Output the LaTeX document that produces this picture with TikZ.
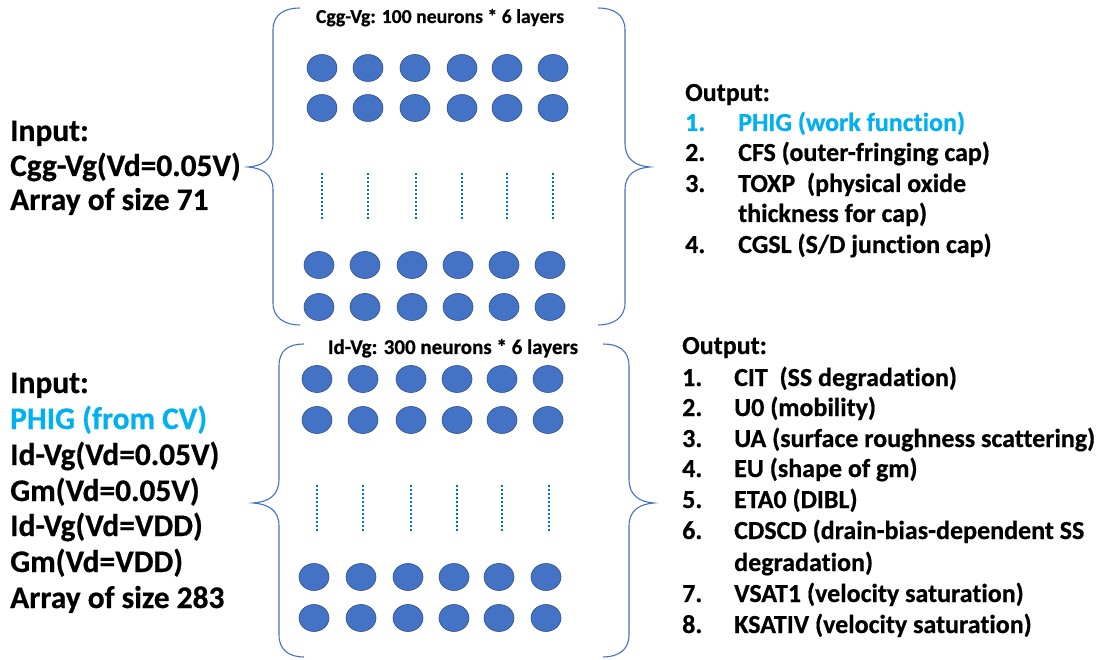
\documentclass[tikz,border=0pt]{standalone}
\usepackage{fontspec}
\setmainfont{Carlito}[Ligatures=NoCommon,BoldFeatures={FakeBold=0.6}]
\usetikzlibrary{shapes.geometric}
\definecolor{nblue}{HTML}{4472C4}
\definecolor{nedge}{HTML}{2F528F}
\definecolor{dotblue}{HTML}{0070C0}
\definecolor{lblue}{HTML}{00B0F0}
\begin{document}
\begin{tikzpicture}[x=1pt,y=-1pt,
  neuron/.style={ellipse,draw=nedge,line width=0.6pt,fill=nblue,minimum width=30pt,minimum height=27pt,inner sep=0pt},
  brace/.style={draw=nblue,line width=1.1pt},
  dotcol/.style={draw=dotblue,line width=2.8pt,dash pattern=on 2.4pt off 1.6pt},
  intxt/.style={anchor=base west,inner sep=0pt,font=\fontsize{31.4}{36}\selectfont\bfseries},
  outtxt/.style={anchor=base west,inner sep=0pt,font=\fontsize{26}{30}\selectfont\bfseries},
  ttl/.style={anchor=base,inner sep=0pt,font=\fontsize{19.7}{23}\selectfont\bfseries}]
\useasboundingbox (0,0) rectangle (1098,660);
% ---------- braces top
\draw[brace] (300,8) .. controls (285,8) and (273,14) .. (273,30) -- (273,143)
  .. controls (273,160) and (262,166) .. (248,167) .. controls (262,168) and (273,174) .. (273,190)
  -- (273,303) .. controls (273,318) and (285,325) .. (300,325);
\draw[brace] (598,8) .. controls (613,8) and (625,14) .. (625,30) -- (625,143)
  .. controls (625,160) and (636,166) .. (650,167) .. controls (636,168) and (625,174) .. (625,190)
  -- (625,303) .. controls (625,318) and (613,325) .. (598,325);
% ---------- braces bottom
\draw[brace] (304,344) .. controls (289,344) and (279,350) .. (279,366) -- (279,479)
  .. controls (279,496) and (268,502) .. (253,503) .. controls (268,504) and (279,510) .. (279,526)
  -- (279,635) .. controls (279,650) and (289,657) .. (304,657);
\draw[brace] (603,344) .. controls (618,344) and (629,350) .. (629,366) -- (629,479)
  .. controls (629,496) and (640,502) .. (654,503) .. controls (640,504) and (629,510) .. (629,526)
  -- (629,635) .. controls (629,650) and (618,657) .. (603,657);
% ---------- titles
\node[ttl] (t1) at (440,23) {Cgg-Vg: 100 neurons * 6 layers};
\node[ttl,font=\fontsize{21}{25}\selectfont\bfseries] (t2) at (453,354) {Id-Vg: 300 neurons * 6 layers};
% ---------- neurons top
\foreach \x [count=\i] in {322,368,415,462,507,553}{
  \node[neuron] (ta\i) at (\x,68) {};
  \node[neuron] (tb\i) at (\x,108) {};
}
\foreach \x [count=\i] in {319,365,412,458,504,550}{
  \node[neuron] (tc\i) at (\x,265) {};
  \node[neuron] (td\i) at (\x,307) {};
}
\foreach \x in {322,368,416,462,507,553}{
  \draw[dotcol] (\x,173) -- (\x,221);
}
% ---------- neurons bottom
\foreach \x [count=\i] in {317,363,411,457,502,548}{
  \node[neuron] (ba\i) at (\x,379) {};
  \node[neuron] (bb\i) at (\x,420) {};
}
\foreach \x [count=\i] in {314,361,408,454,499,546}{
  \node[neuron] (bc\i) at (\x,577) {};
  \node[neuron] (bd\i) at (\x,618) {};
}
\foreach \x in {317,363,411,457,502,549}{
  \draw[dotcol] (\x,485) -- (\x,533);
}
% ---------- input 1
\node[intxt] (i1a) at (10,141) {Input:};
\node[intxt] (i1b) at (10,176) {Cgg-Vg(Vd=0.05V)};
\node[intxt] (i1c) at (10,210) {Array of size 71};
% ---------- input 2
\node[intxt] (i2a) at (10,393) {Input:};
\node[intxt,text=lblue] (i2b) at (10,429) {PHIG (from CV)};
\node[intxt] (i2c) at (10,465) {Id-Vg(Vd=0.05V)};
\node[intxt] (i2d) at (10,501) {Gm(Vd=0.05V)};
\node[intxt] (i2e) at (10,536) {Id-Vg(Vd=VDD)};
\node[intxt] (i2f) at (10,572) {Gm(Vd=VDD)};
\node[intxt] (i2g) at (10,608) {Array of size 283};
% ---------- output 1
\node[outtxt] (o1) at (685,101) {Output:};
\node[outtxt,text=lblue] (o1n1) at (685,131) {1.};
\node[outtxt,text=lblue] (o1t1) at (738,131) {PHIG (work function)};
\node[outtxt] (o1n2) at (685,161) {2.};
\node[outtxt] (o1t2) at (738,161) {CFS (outer-fringing cap)};
\node[outtxt] (o1n3) at (685,192) {3.};
\node[outtxt] (o1t3) at (738,192) {TOXP\ \ (physical oxide};
\node[outtxt] (o1t3b) at (738,222) {thickness for cap)};
\node[outtxt] (o1n4) at (685,253) {4.};
\node[outtxt] (o1t4) at (738,253) {CGSL (S/D junction cap)};
% ---------- output 2
\node[outtxt] (o2) at (682,354) {Output:};
\node[outtxt] (o2n1) at (682,386) {1.};
\node[outtxt] (o2t1) at (734,386) {CIT\ \ (SS degradation)};
\node[outtxt] (o2n2) at (682,416) {2.};
\node[outtxt] (o2t2) at (734,416) {U0 (mobility)};
\node[outtxt] (o2n3) at (682,447) {3.};
\node[outtxt] (o2t3) at (734,447) {UA (surface roughness scattering)};
\node[outtxt] (o2n4) at (682,477) {4.};
\node[outtxt] (o2t4) at (734,477) {EU (shape of gm)};
\node[outtxt] (o2n5) at (682,508) {5.};
\node[outtxt] (o2t5) at (734,508) {ETA0 (DIBL)};
\node[outtxt] (o2n6) at (682,539) {6.};
\node[outtxt] (o2t6) at (734,539) {CDSCD (drain-bias-dependent SS};
\node[outtxt] (o2t6b) at (734,571) {degradation)};
\node[outtxt] (o2n7) at (682,602) {7.};
\node[outtxt] (o2t7) at (734,602) {VSAT1 (velocity saturation)};
\node[outtxt] (o2n8) at (682,633) {8.};
\node[outtxt] (o2t8) at (734,633) {KSATIV (velocity saturation)};
\end{tikzpicture}
\end{document}
